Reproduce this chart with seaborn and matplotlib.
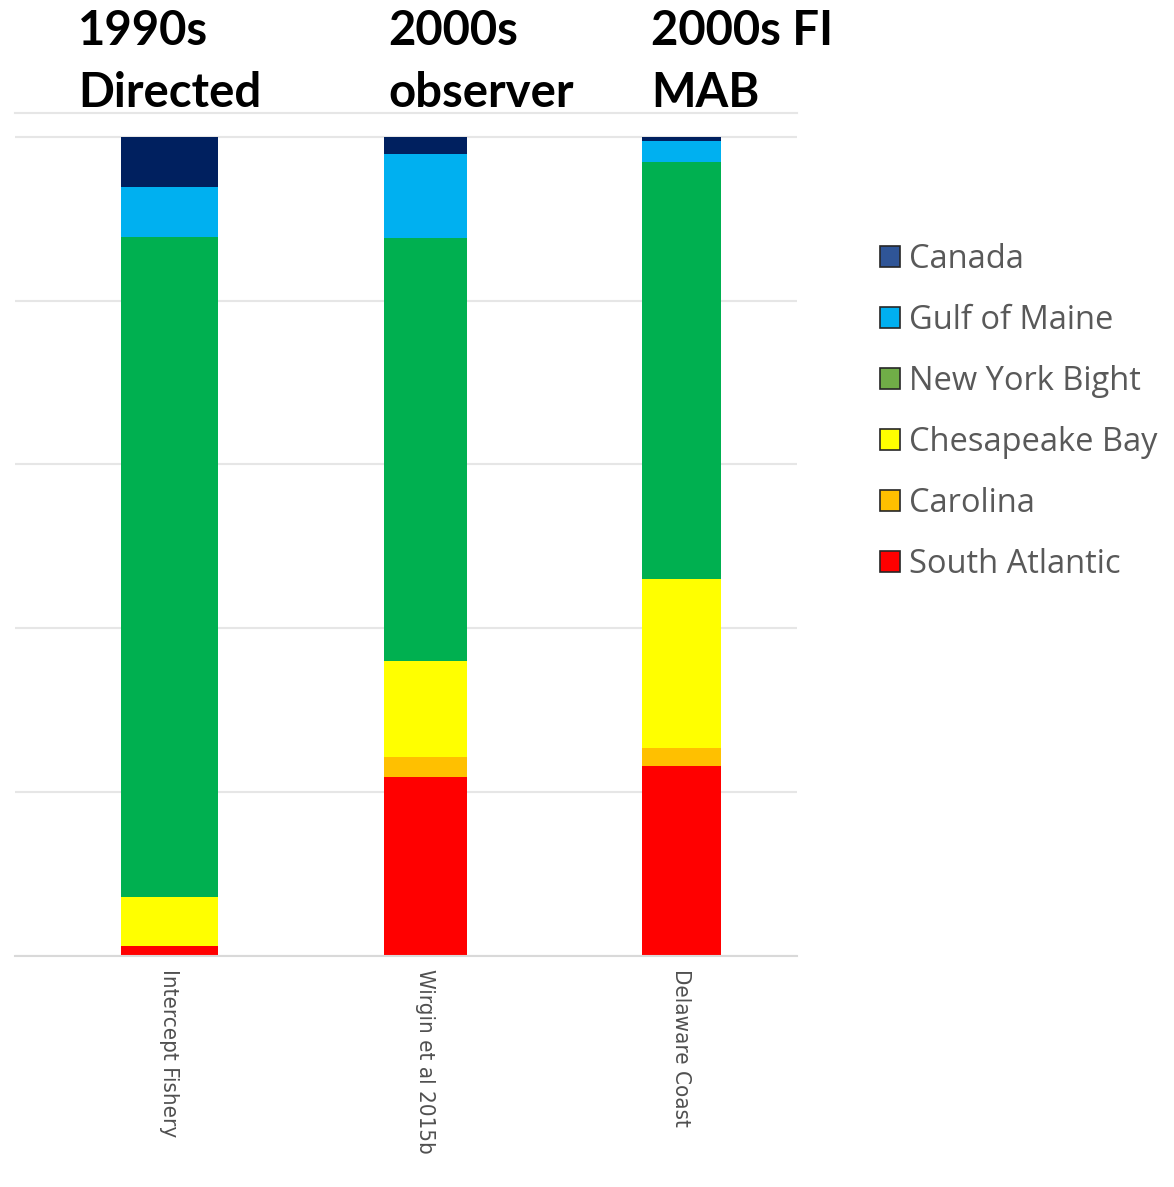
import matplotlib
matplotlib.use("Agg")
import matplotlib.pyplot as plt
from matplotlib.patches import Patch
import numpy as np
import pandas as pd
import seaborn as sns

# Source studies (x categories) and their period headings
studies = ["Intercept Fishery", "Wirgin et al 2015b", "Delaware Coast"]
headings = ["1990s\nDirected", "2000s\nobserver", "2000s FI\nMAB"]

# Stock composition (%), listed top of stack to bottom
regions = ["Canada", "Gulf of Maine", "New York Bight",
           "Chesapeake Bay", "Carolina", "South Atlantic"]
canada = [6.1, 2.1, 0.5]
gulf_of_maine = [6.1, 10.2, 2.5]
new_york_bight = [80.6, 51.7, 51.0]
chesapeake_bay = [6.0, 11.8, 20.7]
carolina = [0.0, 2.4, 2.1]
south_atlantic = [1.2, 21.8, 23.2]

bar_colors = ["#00205F", "#00B0F0", "#00B050", "#FFFF00", "#FFC000", "#FF0000"]
legend_colors = ["#2F5597", "#00B0F0", "#70AD47", "#FFFF00", "#FFC000", "#FF0000"]
bar_widths = [0.379, 0.323, 0.309]

df = pd.DataFrame(
    {"study": studies, "Canada": canada, "Gulf of Maine": gulf_of_maine,
     "New York Bight": new_york_bight, "Chesapeake Bay": chesapeake_bay,
     "Carolina": carolina, "South Atlantic": south_atlantic}
)

sns.set_theme(style="white")
plt.rcParams["font.family"] = ["Lato", "DejaVu Sans"]

fig = plt.figure(figsize=(11.74, 11.87), dpi=100)
ax = fig.add_axes([15 / 1174, 1 - 955.5 / 1187, (797 - 15) / 1174, (955.5 - 113) / 1187])

# Stacked bars: draw cumulative totals from the full stack down to the bottom segment
for i, reg in enumerate(regions):
    cum = df[regions[i:]].sum(axis=1)
    sns.barplot(x=df["study"], y=cum, color=bar_colors[i], ax=ax,
                linewidth=0, saturation=1, width=0.35, order=studies)

for p in ax.patches:
    c = p.get_x() + p.get_width() / 2
    k = int(round(c))
    p.set_width(bar_widths[k])
    p.set_x(c - bar_widths[k] / 2)

ax.set_xlim(-0.602, 2.452)
ax.set_ylim(0, 102.93)
ax.set_yticks([0, 20, 40, 60, 80, 100])
ax.yaxis.grid(True, color="#E6E6E6", linewidth=1.5)
ax.set_axisbelow(True)
ax.tick_params(axis="y", left=False, labelleft=False)
ax.tick_params(axis="x", bottom=False, pad=4)
ax.set_xlabel("")
ax.set_ylabel("")
for s in ["left", "right"]:
    ax.spines[s].set_visible(False)
ax.spines["top"].set_color("#E6E6E6")
ax.spines["top"].set_linewidth(1.5)
ax.spines["bottom"].set_color("#D9D9D9")
ax.spines["bottom"].set_linewidth(1.5)

ax.set_xticks(range(len(studies)))
ax.set_xticklabels(studies, rotation=270, ha="center", va="top",
                   color="#505050", fontsize=16, family="DejaVu Sans",
                   fontstretch="condensed")

# Period headings above each bar
for xpx, txt in zip([78, 388, 651], headings):
    fig.text(xpx / 1174, 1 - 9 / 1187, txt, ha="left", va="top",
             fontsize=34, fontweight="bold", color="black", linespacing=1.5)

handles = [Patch(facecolor=c, edgecolor="#262626", linewidth=1.2) for c in legend_colors]
fig.legend(handles, regions, loc="upper left",
           bbox_to_anchor=(880 / 1174, 1 - 243 / 1187), bbox_transform=fig.transFigure,
           frameon=False, labelcolor="#595959",
           prop={"family": "Open Sans", "size": 23.5},
           handlelength=0.6, handleheight=0.6, handletextpad=0.3,
           labelspacing=0.86, borderpad=0, borderaxespad=0)

fig.savefig("out.png", dpi=100)
